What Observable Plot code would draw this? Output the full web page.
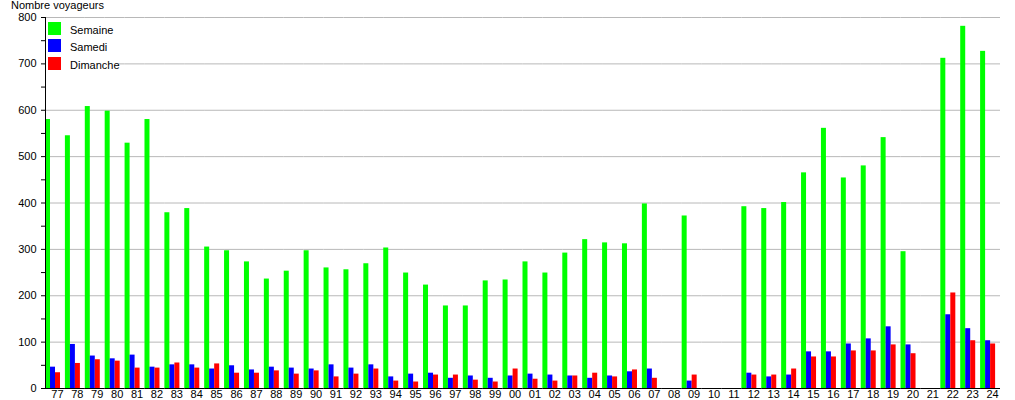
<!DOCTYPE html>
<html>
<head>
<meta charset="utf-8">
<script src="https://cdn.jsdelivr.net/npm/d3@7"></script>
<script src="https://cdn.jsdelivr.net/npm/@observablehq/plot@0.6"></script>
<style>
  html, body { margin: 0; padding: 0; background: #fff; }
  #wrap { position: relative; width: 1015px; height: 400px; font-family: "Liberation Sans", Arial, sans-serif; font-size: 11px; color: #000; }
  #title { position: absolute; left: 11px; top: -1px; line-height: 12px; white-space: nowrap; }
  #legend { position: absolute; left: 46px; top: 19px; width: 72px; height: 54px; background: #fff; }
  .item { position: absolute; left: 2px; height: 13px; white-space: nowrap; }
  .sw { position: absolute; left: 0; top: 0; width: 13px; height: 13px; }
  .lab { position: absolute; left: 22px; top: 0px; line-height: 16px; }
</style>
</head>
<body>
<div id="wrap"><div id="chart"></div><div id="title"></div><div id="legend"></div></div>
<script>
const years = ["77","78","79","80","81","82","83","84","85","86","87","88","89","90","91","92","93","94","95","96","97","98","99","00","01","02","03","04","05","06","07","08","09","10","11","12","13","14","15","16","17","18","19","20","21","22","23","24"];
const seriesNames = ["Semaine", "Samedi", "Dimanche"];
const seriesColors = ["#00ff00", "#0000ff", "#ff0000"];
const semaine = [580,545,608,598,529,580,379,388,305,297,
                 273,236,253,297,260,256,269,303,249,223,
                 178,178,232,234,273,249,292,321,314,312,
                 398,null,372,null,null,392,388,401,465,561,
                 454,480,541,295,null,712,781,727];
const samedi = [46,95,70,64,72,46,51,51,42,49,
                40,46,44,42,51,44,51,25,31,33,
                22,27,22,27,31,29,27,22,27,36,
                42,null,16,null,null,33,25,29,79,79,
                96,107,133,94,null,159,129,103];
const dimanche = [34,54,62,59,44,44,55,44,53,33,
                  33,38,31,38,25,31,42,16,14,29,
                  29,18,14,42,20,16,27,33,25,40,
                  22,null,29,null,null,29,29,42,68,68,
                  81,81,94,75,null,206,103,96];
const yTicks = [0,50,100,150,200,250,300,350,400,450,500,550,600,650,700,750,800];
const yGrid = [0,100,200,300,400,500,600,700,800];
const yTitle = "Nombre voyageurs";

const seriesData = [semaine, samedi, dimanche];
const rows = [];
years.forEach((yr, i) => {
  seriesNames.forEach((s, j) => {
    rows.push({year: yr, series: s, value: seriesData[j][i]});
  });
});

const chart = Plot.plot({
  width: 1015,
  height: 400,
  marginLeft: 45,
  marginRight: 15,
  marginTop: 17,
  marginBottom: 12,
  style: {fontFamily: "'Liberation Sans', Arial, sans-serif", fontSize: "11px", color: "#000", background: "#fff", overflow: "visible"},
  facet: {data: rows, x: "year"},
  fx: {domain: years, padding: 0, label: null, axis: null},
  x: {domain: seriesNames, axis: null, paddingInner: 0, paddingOuter: 0.375, align: 0},
  y: {domain: [0, 800], axis: null},
  color: {domain: seriesNames, range: seriesColors},
  marks: [
    Plot.gridY(yGrid, {stroke: "#b8b8b8", strokeOpacity: 1}),
    Plot.barY(rows, {x: "series", y: "value", fill: "series"}),
    Plot.ruleY([0], {stroke: "#000", strokeWidth: 1}),
    Plot.frame({anchor: "left", stroke: "#000", facetAnchor: "left"}),
    Plot.axisY(yTicks, {tickSize: 4, tickPadding: 5, label: null, tickFormat: d => d % 100 === 0 ? d : "", facetAnchor: "left"}),
    Plot.axisFx({anchor: "bottom", tickSize: 0, tickPadding: 2, label: null, dx: 2})
  ]
});
document.getElementById("chart").append(chart);

document.getElementById("title").textContent = yTitle;
const legend = document.getElementById("legend");
seriesNames.forEach((s, i) => {
  const item = document.createElement("div");
  item.className = "item";
  item.style.top = (3 + i * 17.3) + "px";
  const sw = document.createElement("div");
  sw.className = "sw";
  sw.style.background = seriesColors[i];
  const lab = document.createElement("div");
  lab.className = "lab";
  lab.textContent = s;
  item.append(sw, lab);
  legend.append(item);
});
</script>
</body>
</html>
